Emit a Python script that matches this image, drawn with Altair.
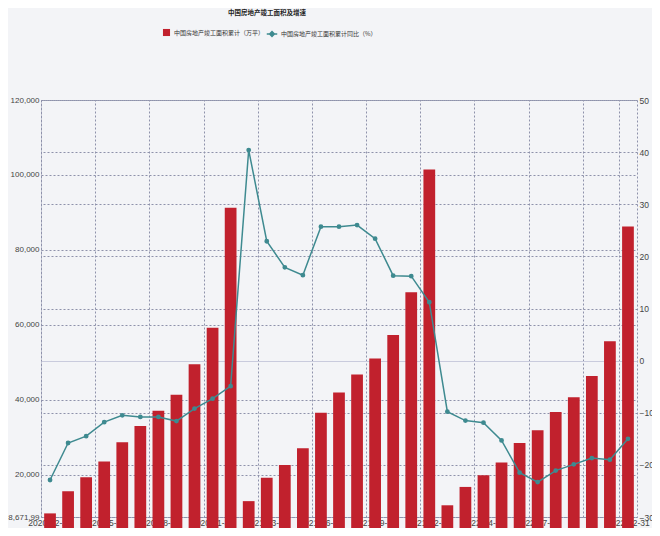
import altair as alt
import pandas as pd

dates = [
    "2020-02-29", "2020-03-31", "2020-04-30", "2020-05-31", "2020-06-30", "2020-07-31",
    "2020-08-31", "2020-09-30", "2020-10-31", "2020-11-30", "2020-12-31",
    "2021-02-28", "2021-03-31", "2021-04-30", "2021-05-31", "2021-06-30", "2021-07-31",
    "2021-08-31", "2021-09-30", "2021-10-31", "2021-11-30", "2021-12-31",
    "2022-02-28", "2022-03-31", "2022-04-30", "2022-05-31", "2022-06-30", "2022-07-31",
    "2022-08-31", "2022-09-30", "2022-10-31", "2022-11-30", "2022-12-31",
]
area = [
    9636, 15557, 19293, 23470, 28621, 32990, 37044, 41338, 49441, 59173, 91218,
    12907, 19122, 22551, 27014, 36481, 41900, 46739, 51013, 57289, 68700, 101412,
    11800, 16700, 19800, 23200, 28460, 31820, 36730, 40620, 46320, 55560, 86222,
]
yoy = [
    -22.9, -15.8, -14.5, -11.8, -10.5, -10.8, -10.8, -11.6, -9.2, -7.3, -4.9,
    40.4, 22.9, 17.9, 16.4, 25.7, 25.7, 26.0, 23.4, 16.3, 16.2, 11.2,
    -9.8, -11.5, -11.9, -15.3, -21.5, -23.3, -21.1, -19.9, -18.7, -19.0, -15.0,
]
label_dates = ["2020-02-29", "2020-05-31", "2020-08-31", "2020-11-30", "2021-03-31",
               "2021-06-30", "2021-09-30", "2021-12-31", "2022-04-30", "2022-07-31",
               "2022-12-31"]
grid_dates = ["2020-02-29", "2020-05-31", "2020-08-31", "2020-11-30", "2021-03-31",
              "2021-06-30", "2021-09-30", "2021-12-31", "2022-04-30", "2022-07-31",
              "2022-10-31", "2022-12-31"]
left_ticks = [8671.99, 20000, 40000, 60000, 80000, 100000, 120000]
right_ticks = [-30, -20, -10, 0, 10, 20, 30, 40, 50]

bar_name = "中国房地产竣工面积累计（万平）"
line_name = "中国房地产竣工面积累计同比（%）"
title_text = "中国房地产竣工面积及增速"

RED = "#c1212d"
TEAL = "#3e8a90"
GRID = "#8e92ab"
AXFONT = "Liberation Sans, Arial, sans-serif"
CJK = "Noto Sans CJK SC"

df = pd.DataFrame({"date": dates, "area": area, "yoy": yoy})
df["s1"] = bar_name
df["s2"] = line_name

W, H = 596, 417
inner = 0.35
step = W / len(dates)

xscale = alt.Scale(paddingInner=inner, paddingOuter=inner / 2)

bars = alt.Chart(df).mark_bar(color=RED).encode(
    x=alt.X("date:O", sort=None, scale=xscale, title=None,
            axis=alt.Axis(orient="bottom", values=label_dates, labelAngle=0, grid=False,
                          ticks=False, domain=False, labelPadding=1, labelFont=AXFONT,
                          labelFontSize=8.5, labelColor="#444", labelOverlap=False,
                          labelLimit=200)),
    y=alt.Y("area:Q", title=None,
            scale=alt.Scale(domain=[8671.99, 120000], nice=False, zero=False),
            axis=alt.Axis(orient="left", values=left_ticks,
                          labelExpr="datum.value < 10000 ? format(datum.value, ',.2f') : format(datum.value, ',.0f')",
                          grid=True, gridDash=[2, 2], gridColor=GRID, gridWidth=1,
                          ticks=False, domain=False, labelPadding=2, labelFont=AXFONT,
                          labelFontSize=8, labelColor="#444")),
    color=alt.Color("s1:N", scale=alt.Scale(range=[RED]),
                    legend=alt.Legend(orient="none", legendX=121, legendY=-72, title=None,
                                      symbolType="square", symbolSize=50, padding=0,
                                      labelFont=CJK, labelFontSize=6, labelColor="#333",
                                      labelOffset=3)),
)

line = alt.Chart(df).mark_line(
    strokeWidth=1.5,
    point=alt.OverlayMarkDef(filled=True, size=8, color=TEAL),
).encode(
    x=alt.X("date:O", sort=None, scale=xscale, title=None,
            axis=alt.Axis(orient="top", values=grid_dates, labels=False, ticks=False,
                          domain=False, grid=True, gridDash=[2, 2], gridColor=GRID,
                          gridWidth=1, bandPosition=0, tickOffset=-step * inner / 2)),
    y=alt.Y("yoy:Q", title=None,
            scale=alt.Scale(domain=[-30, 50], nice=False, zero=False),
            axis=alt.Axis(orient="right", values=right_ticks, grid=True,
                          gridDash={"condition": {"test": "datum.value === 0", "value": []},
                                    "value": [2, 2]},
                          gridColor={"condition": {"test": "datum.value === 0", "value": "#c9cbdd"},
                                     "value": GRID},
                          gridWidth=1, ticks=False, domain=False, labelPadding=2,
                          labelFont=AXFONT, labelFontSize=8.5, labelColor="#444")),
    stroke=alt.Stroke("s2:N", scale=alt.Scale(range=[TEAL]),
                      legend=alt.Legend(orient="none", legendX=225, legendY=-72, title=None,
                                        symbolType="M-1,0L1,0M0,-0.45L0.45,0L0,0.45L-0.45,0Z",
                                        symbolSize=110, symbolStrokeWidth=1.5,
                                        symbolFillColor=TEAL, padding=0,
                                        labelFont=CJK, labelFontSize=6, labelColor="#333",
                                        labelOffset=3)),
)

chart = alt.layer(bars, line).resolve_scale(
    y="independent", color="independent", stroke="independent"
).resolve_axis(
    x="independent", y="independent"
).properties(
    width=W, height=H,
    autosize=alt.AutoSizeParams(type="none"),
    padding={"left": 33, "top": 92, "right": 15, "bottom": 11},
    background="#f3f4f7",
    title=alt.TitleParams(text=title_text, font=CJK, fontSize=6.5, fontWeight="bold",
                          color="#222", anchor="middle", frame="group", dx=-72, offset=12),
).configure_view(stroke=GRID, strokeDash=[2, 2], strokeWidth=1)

chart.save("out.html", embed_options={"renderer": "svg", "actions": False})
